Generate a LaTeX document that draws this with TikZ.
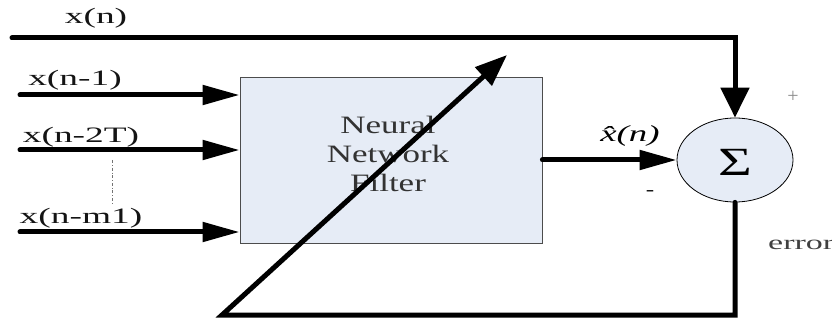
\documentclass[tikz,border=0pt]{standalone}
\usepackage{fontspec}
\setmainfont{Liberation Serif}
\usetikzlibrary{arrows.meta,shapes.geometric}
\definecolor{panel}{RGB}{230,236,246}
\definecolor{ink}{RGB}{20,20,20}
% horizontally widened text
\newcommand{\widetxt}[2][1.7]{\scalebox{#1}[1]{#2}}
\begin{document}
\begin{tikzpicture}[x=1pt,y=-1pt,
  sig/.style={line width=5pt, line cap=round, line join=miter},
  inarrow/.style={sig, -{Triangle[length=37pt,width=19pt]}},
  downarrow/.style={sig, -{Triangle[length=30pt,width=28pt]}},
  adapt/.style={sig, -{Triangle[length=32pt,width=24pt]}},
  lbl/.style={inner sep=0pt, text=ink, font=\fontsize{22}{22}\selectfont},
  block/.style={draw=black!70, line width=0.8pt, fill=panel, minimum width=302pt,
    minimum height=166pt, inner sep=0pt},
  summer/.style={ellipse, draw=black, line width=0.8pt, fill=panel,
    minimum width=116pt, minimum height=84pt, inner sep=0pt}]

\useasboundingbox (0,0) rectangle (832,320);
\clip (0,0) rectangle (832,320);

% blocks
\node[block] (nnf) at (391,160) {};
\node[inner sep=0pt, align=center, text=black!80,
  font=\fontsize{25}{29}\selectfont] (nnftext) at (388,154)
  {\widetxt[1.4]{Neural}\\ \widetxt[1.4]{Network}\\ \widetxt[1.4]{Filter}};
\node[summer] (sum) at (735,160) {};
\node[inner sep=0pt, font=\fontsize{40}{40}\selectfont] (sigma) at (735,162)
  {\widetxt[1.45]{Σ}};

% input signals
\coordinate (xn) at (12,38);
\coordinate (x1) at (20,95);
\coordinate (x2) at (20,150);
\coordinate (xm) at (20,232);
\coordinate (x1e) at (nnf.west |- x1);
\coordinate (x2e) at (nnf.west |- x2);
\coordinate (xme) at (nnf.west |- xm);

\draw[downarrow] (xn) -| (sum.north);
\draw[inarrow] (x1) -- (x1e);
\draw[inarrow] (x2) -- (x2e);
\draw[inarrow] (xm) -- (xme);
\draw[inarrow] (nnf.east |- sum.west) -- (sum.west);

% omitted taps
\coordinate (dotA) at (112,160);
\coordinate (dotB) at (112,205);
\draw[black!55, line width=0.6pt, dash dot] (dotA) -- (dotB);

% error feedback adjusting the filter
\coordinate (fbcorner) at (222,315);
\coordinate (tune) at (507,55);
\draw[adapt] (sum.south) |- (fbcorner) -- (tune);

% labels
\node[lbl] (lxn) at (96,18) {\widetxt{x(n)}};
\node[lbl] (lx1) at (75,80) {\widetxt{x(n-1)}};
\node[lbl] (lx2) at (81,137) {\widetxt{x(n-2T)}};
\node[lbl] (lxm) at (81,218) {\widetxt{x(n-m1)}};
\node[inner sep=0pt, font=\fontsize{23}{23}\selectfont\itshape] (lhat) at (630,136)
  {\widetxt[1.6]{\^{x}(n)}};
\node[inner sep=0pt, font=\fontsize{18}{18}\selectfont] (lminus) at (650,193) {\widetxt[1.4]{-}};
\node[inner sep=0pt, text=black!45, font=\fontsize{20}{20}\selectfont] (lplus) at (793,97) {+};
\node[anchor=west, inner sep=0pt, text=black!75, font=\fontsize{20}{20}\selectfont]
  (lerr) at (768,245) {\widetxt[1.7]{error}};
\end{tikzpicture}
\end{document}
